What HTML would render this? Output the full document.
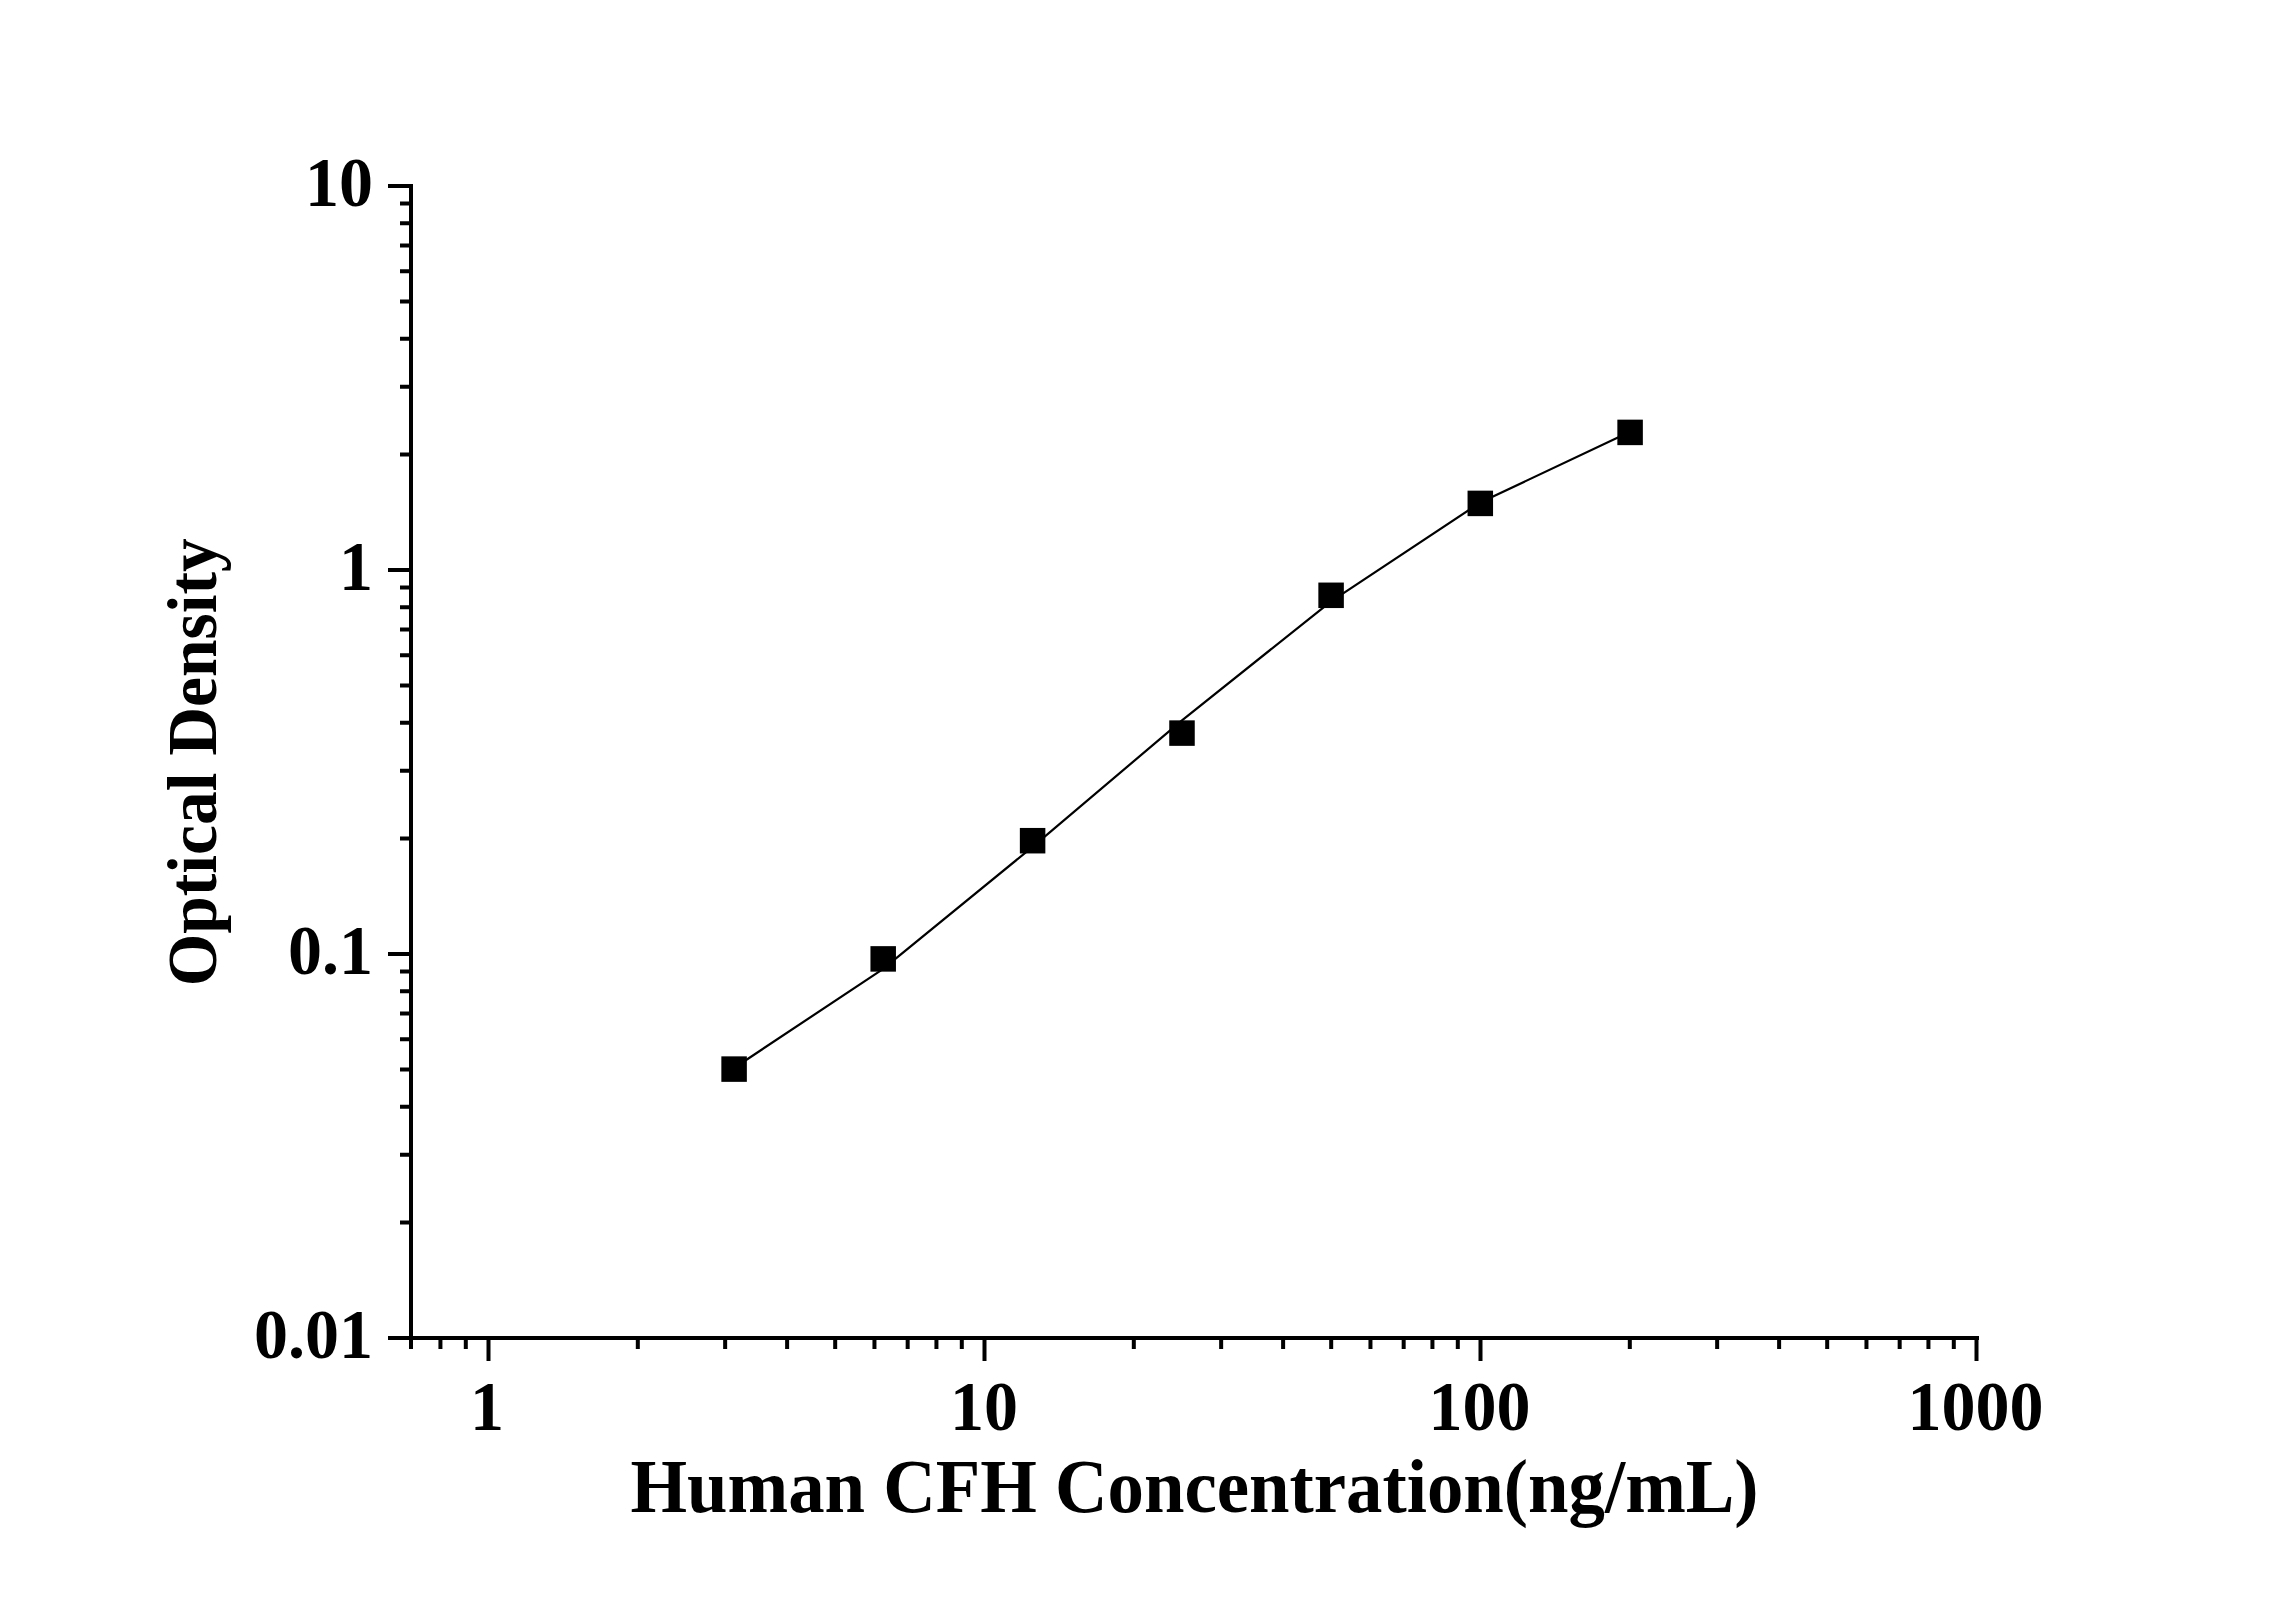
<!DOCTYPE html>
<html><head><meta charset="utf-8"><title>Human CFH Standard Curve</title>
<style>html,body{margin:0;padding:0;background:#fff;width:2296px;height:1604px;overflow:hidden}svg{display:block}</style>
</head><body>
<svg width="2296" height="1604" viewBox="0 0 2296 1604">
<rect width="2296" height="1604" fill="#fff"/>
<path d="M411 184 V1349" stroke="#000" stroke-width="4" fill="none"/>
<path d="M409 1338 H1979" stroke="#000" stroke-width="4" fill="none"/>
<path d="M388 1338.00 H411 M400 1222.40 H411 M400 1154.79 H411 M400 1106.81 H411 M400 1069.60 H411 M400 1039.19 H411 M400 1013.48 H411 M400 991.21 H411 M400 971.57 H411 M388 954.00 H411 M400 838.40 H411 M400 770.79 H411 M400 722.81 H411 M400 685.60 H411 M400 655.19 H411 M400 629.48 H411 M400 607.21 H411 M400 587.57 H411 M388 570.00 H411 M400 454.40 H411 M400 386.79 H411 M400 338.81 H411 M400 301.60 H411 M400 271.19 H411 M400 245.48 H411 M400 223.21 H411 M400 203.57 H411 M388 186.00 H411 M488.50 1338 V1361 M984.50 1338 V1361 M1480.50 1338 V1361 M1976.50 1338 V1361 M440.43 1338 V1349 M465.80 1338 V1349 M637.81 1338 V1349 M725.15 1338 V1349 M787.12 1338 V1349 M835.19 1338 V1349 M874.46 1338 V1349 M907.67 1338 V1349 M936.43 1338 V1349 M961.80 1338 V1349 M1133.81 1338 V1349 M1221.15 1338 V1349 M1283.12 1338 V1349 M1331.19 1338 V1349 M1370.46 1338 V1349 M1403.67 1338 V1349 M1432.43 1338 V1349 M1457.80 1338 V1349 M1629.81 1338 V1349 M1717.15 1338 V1349 M1779.12 1338 V1349 M1827.19 1338 V1349 M1866.46 1338 V1349 M1899.67 1338 V1349 M1928.43 1338 V1349 M1953.80 1338 V1349" stroke="#000" stroke-width="4" fill="none"/>
<path d="M734.1 1068.0 L882.5 969.3 L1032.6 846.8 L1182 720.4 L1331.1 601.3 L1480.3 502.5 L1630.1 431.8" stroke="#000" stroke-width="2.2" fill="none" stroke-linejoin="round"/>
<rect x="721.35" y="1056.35" width="25.5" height="25.5" fill="#000"/>
<rect x="870.45" y="946.15" width="25.5" height="25.5" fill="#000"/>
<rect x="1019.85" y="827.95" width="25.5" height="25.5" fill="#000"/>
<rect x="1169.25" y="720.35" width="25.5" height="25.5" fill="#000"/>
<rect x="1318.35" y="582.55" width="25.5" height="25.5" fill="#000"/>
<rect x="1467.55" y="490.65" width="25.5" height="25.5" fill="#000"/>
<rect x="1617.35" y="419.65" width="25.5" height="25.5" fill="#000"/>
<text transform="translate(373 205.50) scale(1 1.03)" font-size="68" text-anchor="end" font-family="'Liberation Serif', serif" font-weight="bold">10</text>
<text transform="translate(373 589.50) scale(1 1.03)" font-size="68" text-anchor="end" font-family="'Liberation Serif', serif" font-weight="bold">1</text>
<text transform="translate(373 973.50) scale(1 1.03)" font-size="68" text-anchor="end" font-family="'Liberation Serif', serif" font-weight="bold">0.1</text>
<text transform="translate(373 1357.50) scale(1 1.03)" font-size="68" text-anchor="end" font-family="'Liberation Serif', serif" font-weight="bold">0.01</text>
<text transform="translate(487.00 1429.7) scale(1 1.03)" font-size="68" text-anchor="middle" font-family="'Liberation Serif', serif" font-weight="bold">1</text>
<text transform="translate(984.00 1429.7) scale(1 1.03)" font-size="68" text-anchor="middle" font-family="'Liberation Serif', serif" font-weight="bold">10</text>
<text transform="translate(1479.50 1429.7) scale(1 1.03)" font-size="68" text-anchor="middle" font-family="'Liberation Serif', serif" font-weight="bold">100</text>
<text transform="translate(1975.50 1429.7) scale(1 1.03)" font-size="68" text-anchor="middle" font-family="'Liberation Serif', serif" font-weight="bold">1000</text>
<text transform="translate(1194.5 1512) scale(1 1.045)" font-size="72.8" text-anchor="middle" font-family="'Liberation Serif', serif" font-weight="bold">Human CFH Concentration(ng/mL)</text>
<text transform="translate(216.3 762.2) rotate(-90) scale(1 1.045)" font-size="67.5" text-anchor="middle" font-family="'Liberation Serif', serif" font-weight="bold">Optical Density</text>
</svg>
</body></html>
